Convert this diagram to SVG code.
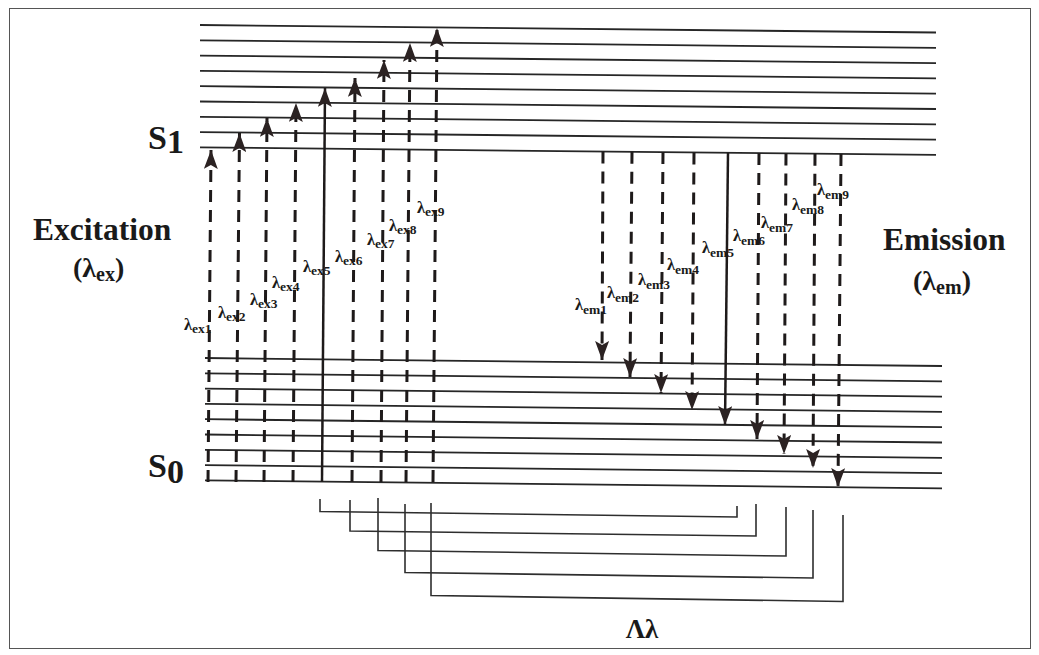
<svg xmlns="http://www.w3.org/2000/svg" width="1039" height="655" viewBox="0 0 1039 655">
<style>
.lvl{stroke:#262626;stroke-width:1.8;fill:none}
.dash{stroke:#1e1a1a;stroke-width:3;stroke-dasharray:12 8;fill:none;marker-end:url(#ah)}
.solid{stroke:#1e1a1a;stroke-width:2.5;fill:none;marker-end:url(#ah)}
.br{stroke:#2e2e2e;stroke-width:1.6;fill:none}
.t{font-family:"Liberation Serif","Times New Roman",serif;font-weight:bold;fill:#1a1a1a}
.lab{font-family:"Liberation Serif","Times New Roman",serif;font-weight:bold;fill:#1a1a1a;font-size:16.5px}
.sub{font-size:13.5px}
</style>
<defs>
<marker id="ah" markerUnits="userSpaceOnUse" viewBox="0 0 19 14" markerWidth="19" markerHeight="14" refX="19" refY="7" orient="auto">
<path d="M19,7 L0,0 L4,7 L0,14 Z" fill="#2b2222"/>
</marker>
</defs>
<rect x="9.5" y="8.5" width="1021" height="640" fill="#fff" stroke="#555" stroke-width="1"/>

<g id="S1">
<line class="lvl" x1="200" y1="25" x2="936" y2="32.5"/>
<line class="lvl" x1="200" y1="40.3" x2="936" y2="47.8"/>
<line class="lvl" x1="200" y1="55.6" x2="936" y2="63.1"/>
<line class="lvl" x1="200" y1="70.9" x2="936" y2="78.4"/>
<line class="lvl" x1="200" y1="86.2" x2="936" y2="93.7"/>
<line class="lvl" x1="200" y1="101.5" x2="936" y2="109"/>
<line class="lvl" x1="200" y1="116.8" x2="936" y2="124.3"/>
<line class="lvl" x1="200" y1="132.1" x2="936" y2="139.6"/>
<line class="lvl" x1="200" y1="147.4" x2="936" y2="154.9"/>
<text class="t" x="148" y="149" font-size="34">S<tspan dy="4">1</tspan></text>
</g>

<g id="S0">
<line class="lvl" x1="205" y1="358" x2="942" y2="366"/>
<line class="lvl" x1="205" y1="373.3" x2="942" y2="381.3"/>
<line class="lvl" x1="205" y1="388.6" x2="942" y2="396.6"/>
<line class="lvl" x1="205" y1="403.9" x2="942" y2="411.9"/>
<line class="lvl" x1="205" y1="419.2" x2="942" y2="427.2"/>
<line class="lvl" x1="205" y1="434.5" x2="942" y2="442.5"/>
<line class="lvl" x1="205" y1="449.8" x2="942" y2="457.8"/>
<line class="lvl" x1="205" y1="465.1" x2="942" y2="473.1"/>
<line class="lvl" x1="205" y1="480.4" x2="942" y2="488.4"/>
<text class="t" x="148" y="477" font-size="34">S<tspan dy="6">0</tspan></text>
</g>

<g id="excitation">
<text class="t" x="33" y="240" font-size="31.5">Excitation</text>
<text class="t" x="73" y="277" font-size="28">(λ<tspan font-size="20" dy="4">ex</tspan><tspan dy="-4">)</tspan></text>
</g>

<g id="emission">
<text class="t" x="883" y="250" font-size="31.5">Emission</text>
<text class="t" x="913" y="290" font-size="28">(λ<tspan font-size="20" dy="4">em</tspan><tspan dy="-4">)</tspan></text>
</g>

<g id="delta">
<text class="t" x="642" y="638" font-size="27" text-anchor="middle">Λλ</text>
</g>

<g id="connectors">
<path class="dash" d="M208,482 L211,150"/>
<path class="dash" d="M236,482 L239.5,133"/>
<path class="dash" d="M264,482 L267,118"/>
<path class="dash" d="M293,482 L296,103"/>
<path class="solid" d="M322,482 L325,88"/>
<path class="dash" d="M352,482 L355,78"/>
<path class="dash" d="M381,482 L384,60"/>
<path class="dash" d="M406,482 L410,43"/>
<path class="dash" d="M433,482 L437,28"/>

<path class="dash" d="M603,151.5 L602,360"/>
<path class="dash" d="M632,151.8 L630,377"/>
<path class="dash" d="M663,152.1 L661,393"/>
<path class="dash" d="M694,152.4 L692,410"/>
<path class="solid" d="M728,152.8 L725,425"/>
<path class="dash" d="M759,153.1 L757,439"/>
<path class="dash" d="M786,153.4 L784,454"/>
<path class="dash" d="M815,153.7 L813,468"/>
<path class="dash" d="M841,153.9 L838,487"/>

<path class="br" d="M320,499 L320,511.5 L737,517 L737,506"/>
<path class="br" d="M350,500 L350,531 L756,536 L756,504"/>
<path class="br" d="M378,498 L378,550.5 L786,556 L786,507"/>
<path class="br" d="M405,504 L405,572.5 L813,578 L813,510"/>
<path class="br" d="M431,503 L431,595.5 L843,601.5 L843,515"/>
</g>

<g id="arrow-labels">
<text class="lab" x="184" y="330">λ<tspan class="sub" dy="3">ex1</tspan></text>
<text class="lab" x="218" y="318">λ<tspan class="sub" dy="3">ex2</tspan></text>
<text class="lab" x="250" y="305">λ<tspan class="sub" dy="3">ex3</tspan></text>
<text class="lab" x="272" y="288">λ<tspan class="sub" dy="3">ex4</tspan></text>
<text class="lab" x="303" y="272">λ<tspan class="sub" dy="3">ex5</tspan></text>
<text class="lab" x="335" y="262">λ<tspan class="sub" dy="3">ex6</tspan></text>
<text class="lab" x="367" y="245">λ<tspan class="sub" dy="3">ex7</tspan></text>
<text class="lab" x="389" y="231">λ<tspan class="sub" dy="3">ex8</tspan></text>
<text class="lab" x="417" y="213">λ<tspan class="sub" dy="3">ex9</tspan></text>

<text class="lab" x="575" y="310">λ<tspan class="sub" dy="4">em1</tspan></text>
<text class="lab" x="607" y="298">λ<tspan class="sub" dy="4">em2</tspan></text>
<text class="lab" x="638" y="285">λ<tspan class="sub" dy="4">em3</tspan></text>
<text class="lab" x="667" y="270">λ<tspan class="sub" dy="4">em4</tspan></text>
<text class="lab" x="702" y="253">λ<tspan class="sub" dy="4">em5</tspan></text>
<text class="lab" x="733" y="241">λ<tspan class="sub" dy="4">em6</tspan></text>
<text class="lab" x="761" y="228">λ<tspan class="sub" dy="4">em7</tspan></text>
<text class="lab" x="792" y="210">λ<tspan class="sub" dy="4">em8</tspan></text>
<text class="lab" x="817" y="195">λ<tspan class="sub" dy="4">em9</tspan></text>
</g>
</svg>
